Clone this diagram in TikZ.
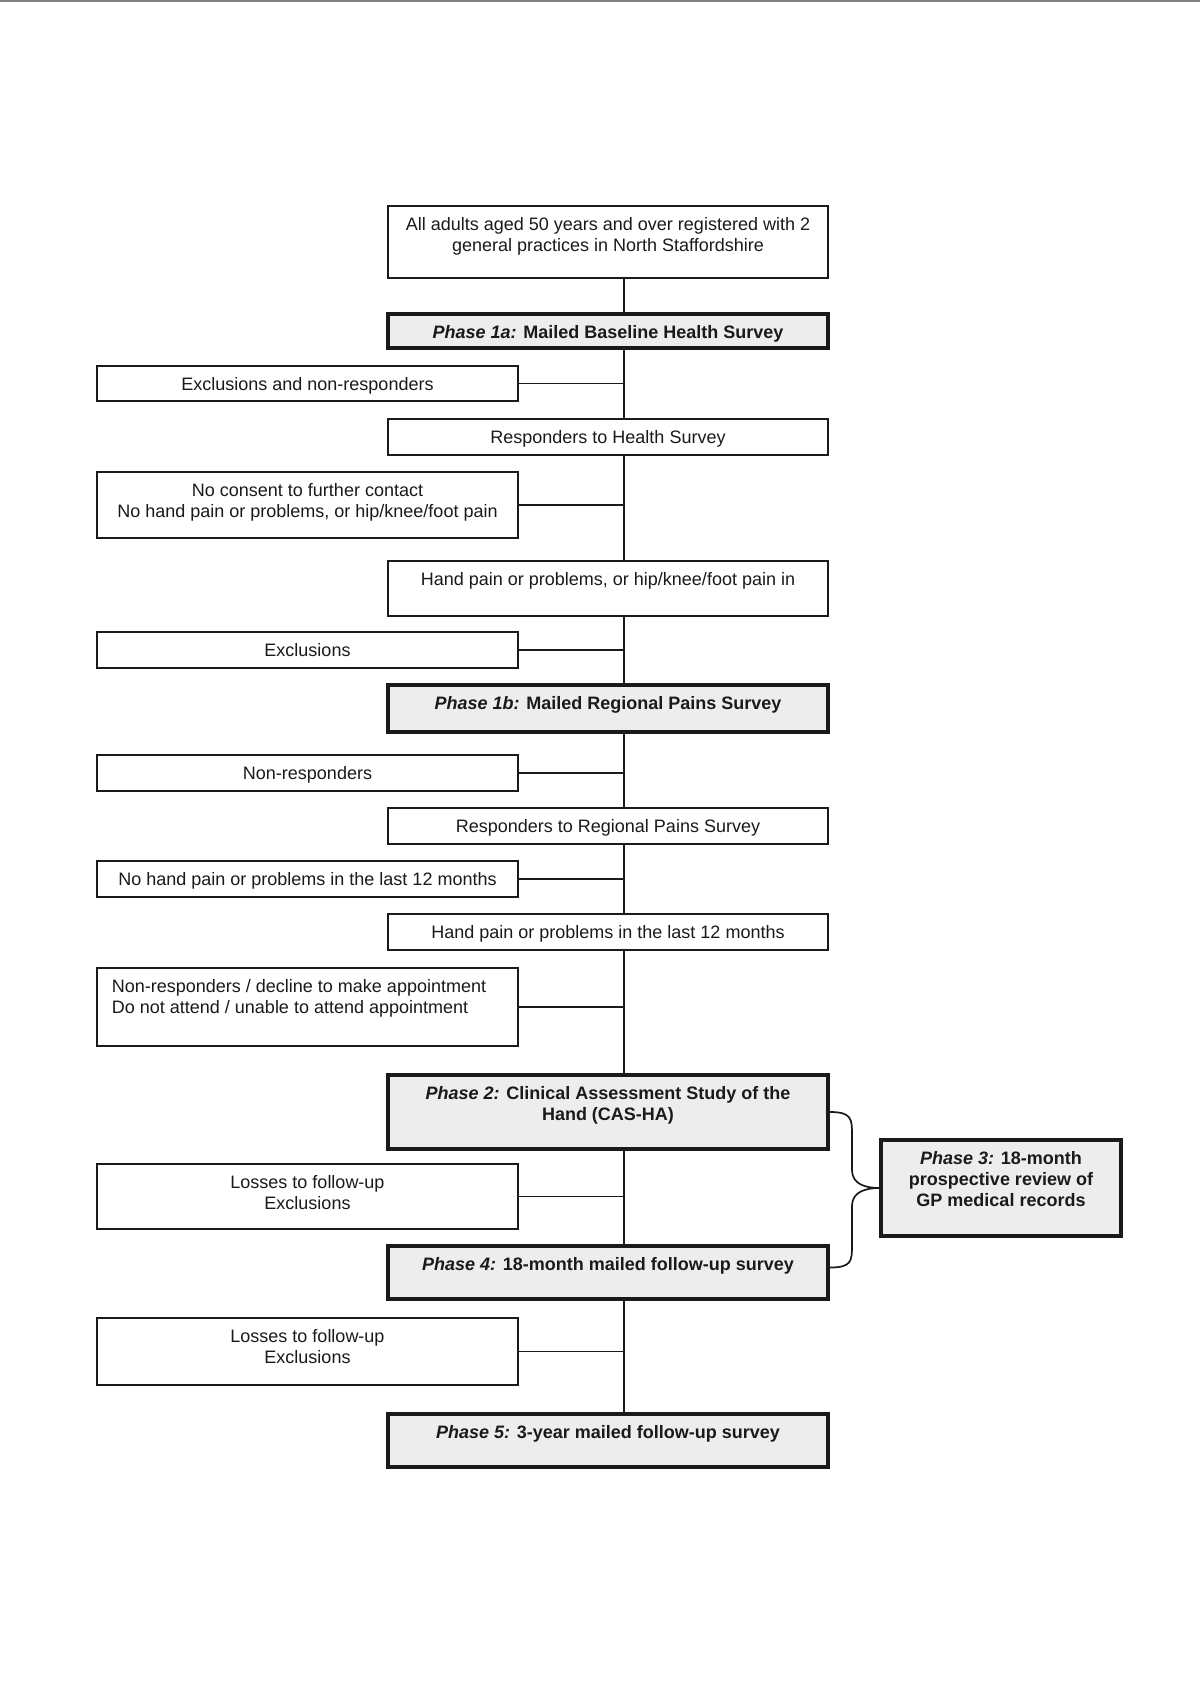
\documentclass[tikz,border=0pt]{standalone}
\usepackage{fontspec}
\setmainfont{Liberation Sans}
\definecolor{phasegray}{HTML}{EDEDED}
\definecolor{ink}{HTML}{1A1A1A}
\newcommand{\BoxAt}[6]{\node[#6, minimum width={0.5pt*(#4-#2)}, minimum height={0.5pt*(#5-#3)}] (#1) at ({(#2+#4)/2},{(#3+#5)/2}) {};}
\newcommand{\PhaseLbl}[1]{{\itshape #1}}
\begin{document}
\begin{tikzpicture}[x=0.5pt,y=-0.5pt,
 thinbox/.style={draw=ink, line width=1pt, fill=white, inner sep=0pt},
 phasebox/.style={draw=ink, line width=1.8pt, fill=phasegray, inner sep=0pt},
 txt/.style={font=\fontsize{9}{10.5}\selectfont, align=center, inner sep=0pt, text=ink, anchor=north},
 conn/.style={draw=ink, line width=0.85pt}]
\useasboundingbox (0,0) rectangle (1200,1697);
\fill[white] (0,0) rectangle (1200,1697);
\draw[gray, line width=1.2pt] (0,1.2) -- (1200,1.2);
\coordinate (sp) at (624,0);

% right column
\BoxAt{top}{388}{206}{828}{278}{thinbox}
\BoxAt{p1a}{388}{314}{828}{348}{phasebox}
\BoxAt{r1}{388}{419}{828}{455}{thinbox}
\BoxAt{r2}{388}{561}{828}{616}{thinbox}
\BoxAt{p1b}{388}{685}{828}{732}{phasebox}
\BoxAt{r3}{388}{808}{828}{844}{thinbox}
\BoxAt{r4}{388}{914}{828}{950}{thinbox}
\BoxAt{p2}{388}{1075}{828}{1149}{phasebox}
\BoxAt{p4}{388}{1246}{828}{1299}{phasebox}
\BoxAt{p5}{388}{1414}{828}{1467}{phasebox}
\BoxAt{p3}{881}{1140}{1121}{1236}{phasebox}
% left column
\BoxAt{l1}{97}{366}{518}{401}{thinbox}
\BoxAt{l2}{97}{472}{518}{538}{thinbox}
\BoxAt{l3}{97}{632}{518}{668}{thinbox}
\BoxAt{l4}{97}{755}{518}{791}{thinbox}
\BoxAt{l5}{97}{861}{518}{897}{thinbox}
\BoxAt{l6}{97}{968}{518}{1046}{thinbox}
\BoxAt{l7}{97}{1164}{518}{1229}{thinbox}
\BoxAt{l8}{97}{1318}{518}{1385}{thinbox}

% texts
\node[txt] (ttop) at ([yshift=-6.25pt]top.north) {All adults aged 50 years and over registered with 2\\general practices in North Staffordshire};
\node[txt] (tp1a) at ([yshift=-6.25pt]p1a.north) {\bfseries\PhaseLbl{Phase 1a:} Mailed Baseline Health Survey};
\node[txt] (tr1) at ([yshift=-6.25pt]r1.north) {Responders to Health Survey};
\node[txt] (tr2) at ([yshift=-6.25pt]r2.north) {Hand pain or problems, or hip/knee/foot pain in};
\node[txt] (tp1b) at ([yshift=-6.25pt]p1b.north) {\bfseries\PhaseLbl{Phase 1b:} Mailed Regional Pains Survey};
\node[txt] (tr3) at ([yshift=-6.25pt]r3.north) {Responders to Regional Pains Survey};
\node[txt] (tr4) at ([yshift=-6.25pt]r4.north) {Hand pain or problems in the last 12 months};
\node[txt] (tp2) at ([yshift=-6.25pt]p2.north) {\bfseries\PhaseLbl{Phase 2:} Clinical Assessment Study of the\\\bfseries Hand (CAS-HA)};
\node[txt] (tp4) at ([yshift=-6.25pt]p4.north) {\bfseries\PhaseLbl{Phase 4:} 18-month mailed follow-up survey};
\node[txt] (tp5) at ([yshift=-6.25pt]p5.north) {\bfseries\PhaseLbl{Phase 5:} 3-year mailed follow-up survey};
\node[txt] (tp3) at ([yshift=-6.25pt]p3.north) {\bfseries\PhaseLbl{Phase 3:} 18-month\\\bfseries prospective review of\\\bfseries GP medical records};
\node[txt] (tl1) at ([yshift=-6.25pt]l1.north) {Exclusions and non-responders};
\node[txt] (tl2) at ([yshift=-6.25pt]l2.north) {No consent to further contact\\No hand pain or problems, or hip/knee/foot pain};
\node[txt] (tl3) at ([yshift=-6.25pt]l3.north) {Exclusions};
\node[txt] (tl4) at ([yshift=-6.25pt]l4.north) {Non-responders};
\node[txt] (tl5) at ([yshift=-6.25pt]l5.north) {No hand pain or problems in the last 12 months};
\node[txt, align=left, anchor=north west] (tl6) at ([xshift=7.75pt,yshift=-6.25pt]l6.north west) {Non-responders / decline to make appointment\\Do not attend / unable to attend appointment};
\node[txt] (tl7) at ([yshift=-6.25pt]l7.north) {Losses to follow-up\\Exclusions};
\node[txt] (tl8) at ([yshift=-6.25pt]l8.north) {Losses to follow-up\\Exclusions};

% spine
\draw[conn] (top.south -| sp) -- (p1a.north -| sp);
\draw[conn] (p1a.south -| sp) -- (r1.north -| sp);
\draw[conn] (r1.south -| sp) -- (r2.north -| sp);
\draw[conn] (r2.south -| sp) -- (p1b.north -| sp);
\draw[conn] (p1b.south -| sp) -- (r3.north -| sp);
\draw[conn] (r3.south -| sp) -- (r4.north -| sp);
\draw[conn] (r4.south -| sp) -- (p2.north -| sp);
\draw[conn] (p2.south -| sp) -- (p4.north -| sp);
\draw[conn] (p4.south -| sp) -- (p5.north -| sp);
% side branches
\foreach \b in {l1,l2,l3,l4,l5,l6,l7,l8}
  \draw[conn] (\b.east) -- (\b.east -| sp);
% brace to phase 3
\coordinate (b4) at ([yshift=2.5pt]p4.east);
\draw[conn] (p2.east) .. controls +(22,0) and +(0,-16) .. (852,1135) -- (852,1170)
  .. controls +(0,14) and +(-14,0) .. (p3.west)
  .. controls +(-14,0) and +(0,-14) .. (852,1206) -- (852,1245)
  .. controls +(0,16) and +(22,0) .. (b4);
\end{tikzpicture}
\end{document}
